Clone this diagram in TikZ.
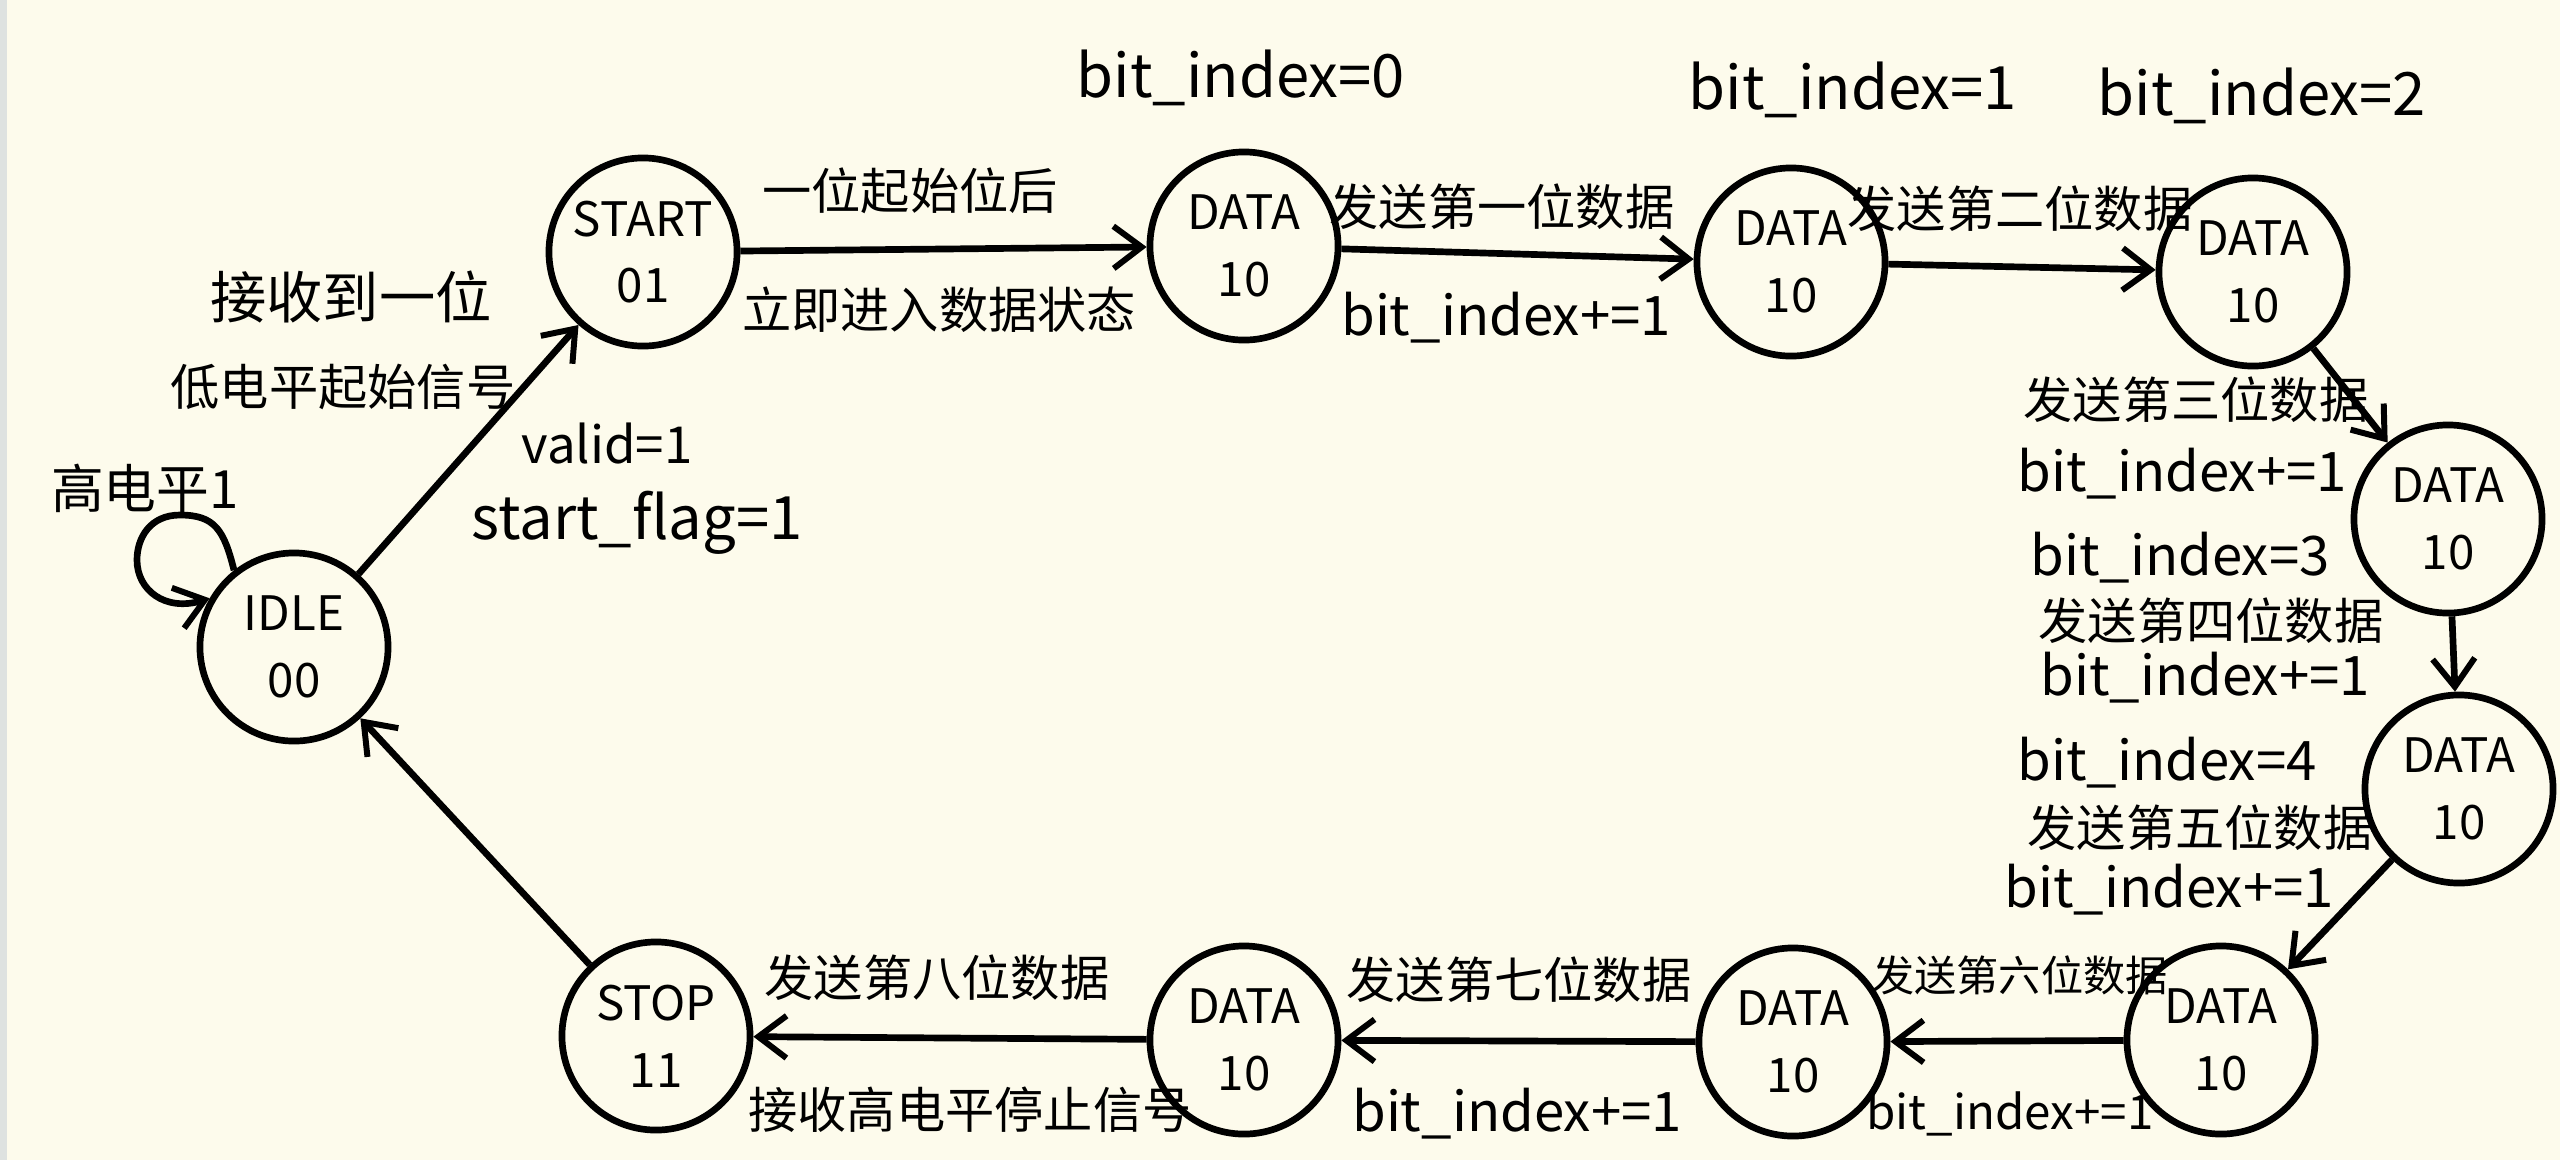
\documentclass[tikz,border=0pt]{standalone}
\usepackage{fontspec}
\setmainfont{Noto Sans CJK SC}
\usetikzlibrary{arrows.meta}
\definecolor{paper}{RGB}{253,251,236}
\definecolor{edge}{RGB}{222,226,224}
\begin{document}
\begin{tikzpicture}[x=0.01cm,y=-0.01cm,
  state/.style={circle,draw,line width=1.9pt,minimum size=1.88cm,inner sep=0pt,align=center,font=\fontsize{13.5}{19}\selectfont},
  arr/.style={-{Straight Barb[length=8pt,width=12pt,line width=1.7pt]},line width=1.9pt},
  cn/.style={inner sep=1pt,font=\fontsize{14}{16}\selectfont},
  lt/.style={inner sep=1pt,font=\fontsize{17}{19}\selectfont},
  ls/.style={inner sep=1pt,font=\fontsize{15.5}{18}\selectfont}]
\fill[paper] (0,0) rectangle (2560,1160);
\fill[edge] (0,0) rectangle (7,1160);
\useasboundingbox (0,0) rectangle (2560,1160);
% states
\node[state] (idle)  at (294,647)  {IDLE\\00};
\node[state] (start) at (643,252)  {START\\01};
\node[state] (d1)    at (1244,246) {DATA\\10};
\node[state] (d2)    at (1791,262) {DATA\\10};
\node[state] (d3)    at (2253,272) {DATA\\10};
\node[state] (d4)    at (2448,519) {DATA\\10};
\node[state] (d5)    at (2459,789) {DATA\\10};
\node[state] (d6)    at (2221,1040) {DATA\\10};
\node[state] (d7)    at (1793,1042) {DATA\\10};
\node[state] (d8)    at (1244,1040) {DATA\\10};
\node[state] (stop)  at (656,1036) {STOP\\11};
% transitions
\coordinate (looptop) at (180,515);
\draw[arr] (idle.128) .. controls +(-10,-40) and (215,515) .. (looptop)
  .. controls (150,515) and (137,538) .. (137,560)
  .. controls (137,590) and (165,612) .. (idle.150);
\draw[arr] (idle) -- (start);
\draw[arr] (start) -- (d1);
\draw[arr] (d1) -- (d2);
\draw[arr] (d2) -- (d3);
\draw[arr] (d3) -- (d4);
\draw[arr] (d4) -- (d5);
\draw[arr] (d5) -- (d6);
\draw[arr] (d6) -- (d7);
\draw[arr] (d7) -- (d8);
\draw[arr] (d8) -- (stop);
\draw[arr] (stop) -- (idle);
% labels
\node[cn] (lhigh) at (145,488) {\fontsize{15}{17}\selectfont 高电平1};
\node[cn] (la1) at (351,297) {\fontsize{16}{18}\selectfont 接收到一位};
\node[cn] (la2) at (343,387) {低电平起始信号};
\node[ls] (lb1) at (607,444) {\fontsize{14.5}{17}\selectfont valid=1};
\node[lt] (lb2) at (637,523) {start\_flag=1};
\node[cn] (lc1) at (910,191) {一位起始位后};
\node[cn] (lc2) at (939,310) {立即进入数据状态};
\node[lt] (bi0) at (1241,78) {bit\_index=0};
\node[cn] (ld1) at (1502,207) {发送第一位数据};
\node[ls] (ld2) at (1506,318) {bit\_index+=1};
\node[lt] (bi1) at (1853,90) {bit\_index=1};
\node[lt] (bi2) at (2262,96) {bit\_index=2};
\node[cn] (le1) at (2020,209) {发送第二位数据};
\node[cn] (lf1) at (2196,400) {发送第三位数据};
\node[ls] (lf2) at (2182,474) {bit\_index+=1};
\node[ls] (bi3) at (2180,558) {bit\_index=3};
\node[cn] (lg1) at (2211,621) {发送第四位数据};
\node[ls] (lg2) at (2205,678) {bit\_index+=1};
\node[ls] (bi4) at (2167,763) {bit\_index=4};
\node[cn] (lh1) at (2200,828) {发送第五位数据};
\node[ls] (lh2) at (2169,890) {bit\_index+=1};
\node[cn] (li1) at (2020,975) {\fontsize{12}{14}\selectfont 发送第六位数据};
\node[ls] (li2) at (2010,1114) {\fontsize{13.5}{16}\selectfont bit\_index+=1};
\node[cn] (lj1) at (1519,980) {发送第七位数据};
\node[ls] (lj2) at (1517,1114) {bit\_index+=1};
\node[cn] (lk1) at (937,978) {发送第八位数据};
\node[cn] (lk2) at (970,1110) {接收高电平停止信号};
\end{tikzpicture}
\end{document}
